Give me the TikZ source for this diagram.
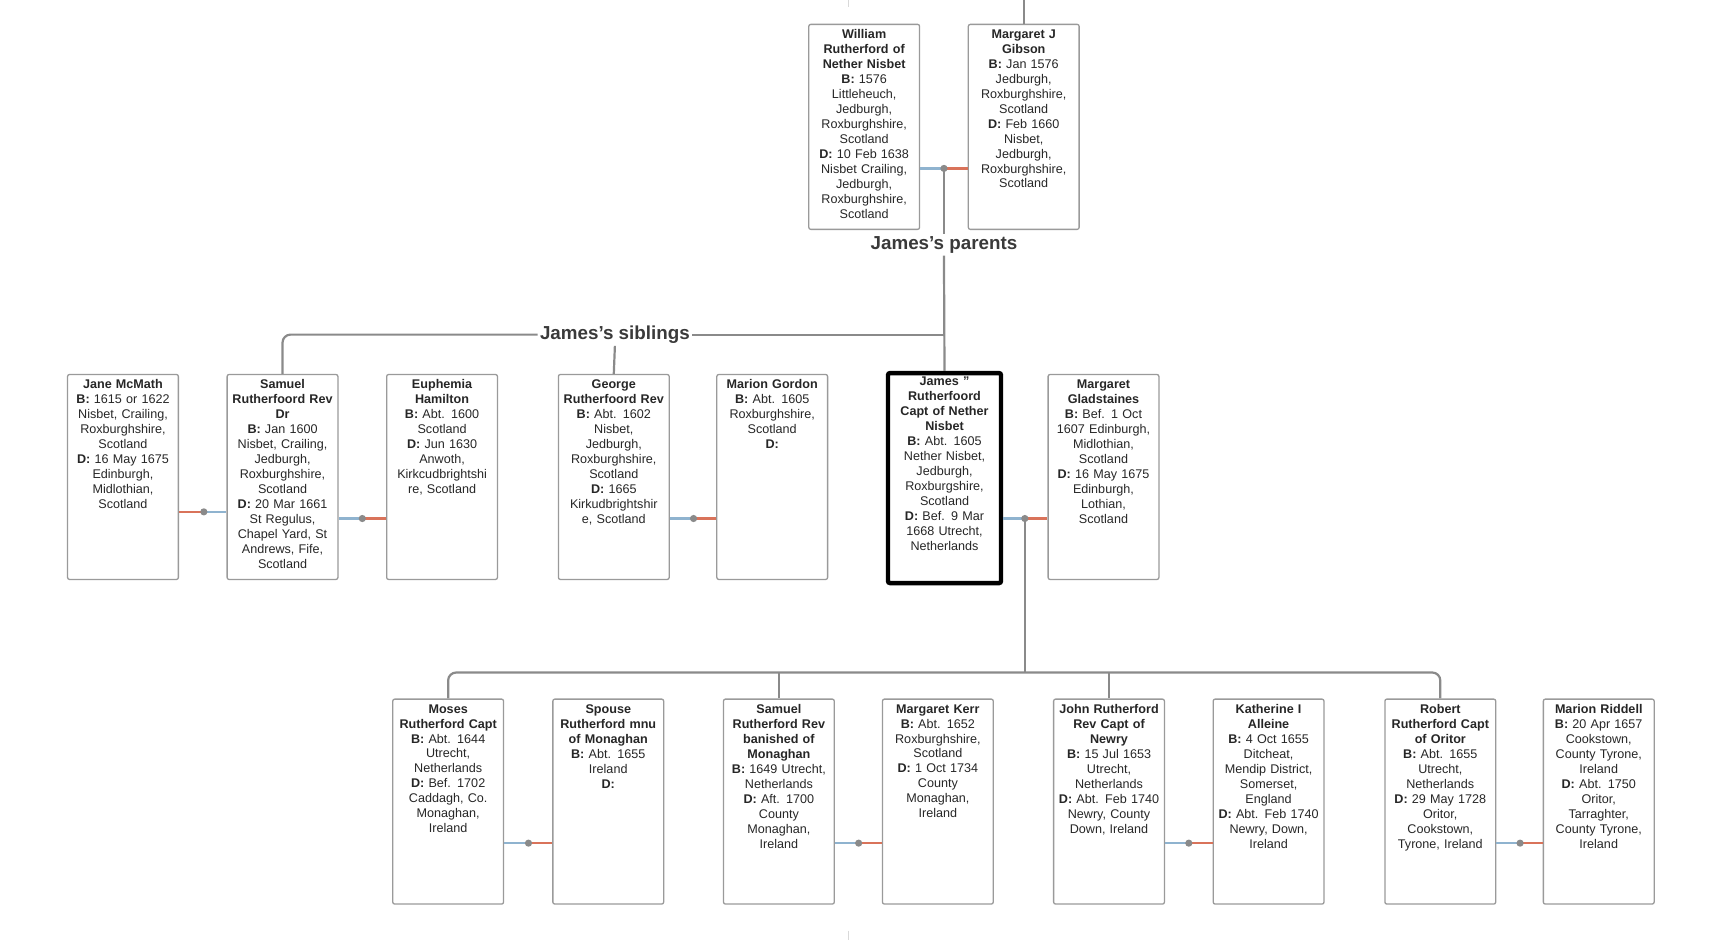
\documentclass[tikz,border=0pt]{standalone}
\usepackage{fontspec}
\setmainfont{Liberation Sans}
\usetikzlibrary{positioning}
\definecolor{linegray}{HTML}{8A8A8A}
\definecolor{boxgray}{HTML}{9A9A9A}
\definecolor{husb}{HTML}{8FB3CF}
\definecolor{wife}{HTML}{D9735A}
\definecolor{labelgray}{HTML}{3A3A3A}
\tikzset{
  box/.style={draw=boxgray,line width=0.65pt,rounded corners=1pt,minimum width=55.4pt,minimum height=102.5pt,inner sep=0pt},
  focus/.style={box,draw=black,line width=2.2pt,minimum width=56.5pt,minimum height=105pt},
  info/.style={inner sep=0pt,text width=62pt,align=center,font=\fontsize{6.3}{7.48}\selectfont,text=black!85},
  tree/.style={draw=linegray,line width=1.1pt,rounded corners=4pt},
  hline/.style={draw=husb,line width=1.1pt},
  wline/.style={draw=wife,line width=1.1pt},
  grouplabel/.style={fill=white,inner sep=1pt,font=\fontsize{9.4}{11}\selectfont\bfseries,text=labelgray}
}
\newcommand\person[5][box]{%
  \node[#1] (#2) at (#3,#4) {};
  \node[info,below=2.8pt of #2.north] {#5};}
\newcommand\couple[5]{% left, right, dot, left style, right style
  \draw[#4] (#1.east|-#3) -- (#3);
  \draw[#5] (#3) -- (#2.west|-#3);
  \fill[linegray] (#3) circle (1.8pt);}
\begin{document}
\begin{tikzpicture}[x=0.554pt,y=-0.554pt]
  \useasboundingbox (0,0) rectangle (1566,848);
  % parents
  \person{william}{780}{114.5}{\textbf{William\\Rutherford of\\Nether Nisbet}\\\textbf{B:} 1576\\Littleheuch,\\Jedburgh,\\Roxburghshire,\\Scotland\\\textbf{D:} 10 Feb 1638\\Nisbet Crailing,\\Jedburgh,\\Roxburghshire,\\Scotland}
  \person{margaretj}{924}{114.5}{\textbf{Margaret J\\Gibson}\\\textbf{B:} Jan 1576\\Jedburgh,\\Roxburghshire,\\Scotland\\\textbf{D:} Feb 1660\\Nisbet,\\Jedburgh,\\Roxburghshire,\\Scotland}
  % siblings row
  \person{jane}{111}{430.5}{\textbf{Jane McMath}\\\textbf{B:} 1615 or 1622\\Nisbet, Crailing,\\Roxburghshire,\\Scotland\\\textbf{D:} 16 May 1675\\Edinburgh,\\Midlothian,\\Scotland}
  \person{samuel}{255}{430.5}{\textbf{Samuel\\Rutherfoord Rev\\Dr}\\\textbf{B:} Jan 1600\\Nisbet, Crailing,\\Jedburgh,\\Roxburghshire,\\Scotland\\\textbf{D:} 20 Mar 1661\\St Regulus,\\Chapel Yard, St\\Andrews, Fife,\\Scotland}
  \person{euphemia}{399}{430.5}{\textbf{Euphemia\\Hamilton}\\\textbf{B:} Abt. 1600\\Scotland\\\textbf{D:} Jun 1630\\Anwoth,\\Kirkcudbrightshi\\re, Scotland}
  \person{george}{554}{430.5}{\textbf{George\\Rutherfoord Rev}\\\textbf{B:} Abt. 1602\\Nisbet,\\Jedburgh,\\Roxburghshire,\\Scotland\\\textbf{D:} 1665\\Kirkudbrightshir\\e, Scotland}
  \person{mariong}{697}{430.5}{\textbf{Marion Gordon}\\\textbf{B:} Abt. 1605\\Roxburghshire,\\Scotland\\\textbf{D:}}
  \person[focus]{james}{852.5}{431.5}{\textbf{James "\\Rutherfoord\\Capt of Nether\\Nisbet}\\\textbf{B:} Abt. 1605\\Nether Nisbet,\\Jedburgh,\\Roxburgshire,\\Scotland\\\textbf{D:} Bef. 9 Mar\\1668 Utrecht,\\Netherlands}
  \person{margaretg}{996}{430.5}{\textbf{Margaret\\Gladstaines}\\\textbf{B:} Bef. 1 Oct\\1607 Edinburgh,\\Midlothian,\\Scotland\\\textbf{D:} 16 May 1675\\Edinburgh,\\Lothian,\\Scotland}
  % children row
  \person{moses}{404.5}{723.5}{\textbf{Moses\\Rutherford Capt}\\\textbf{B:} Abt. 1644\\Utrecht,\\Netherlands\\\textbf{D:} Bef. 1702\\Caddagh, Co.\\Monaghan,\\Ireland}
  \person{spouse}{549}{723.5}{\textbf{Spouse\\Rutherford mnu\\of Monaghan}\\\textbf{B:} Abt. 1655\\Ireland\\\textbf{D:}}
  \person{samuelm}{703}{723.5}{\textbf{Samuel\\Rutherford Rev\\banished of\\Monaghan}\\\textbf{B:} 1649 Utrecht,\\Netherlands\\\textbf{D:} Aft. 1700\\County\\Monaghan,\\Ireland}
  \person{margaretk}{846.5}{723.5}{\textbf{Margaret Kerr}\\\textbf{B:} Abt. 1652\\Roxburghshire,\\Scotland\\\textbf{D:} 1 Oct 1734\\County\\Monaghan,\\Ireland}
  \person{john}{1001}{723.5}{\textbf{John Rutherford\\Rev Capt of\\Newry}\\\textbf{B:} 15 Jul 1653\\Utrecht,\\Netherlands\\\textbf{D:} Abt. Feb 1740\\Newry, County\\Down, Ireland}
  \person{katherine}{1145}{723.5}{\textbf{Katherine I\\Alleine}\\\textbf{B:} 4 Oct 1655\\Ditcheat,\\Mendip District,\\Somerset,\\England\\\textbf{D:} Abt. Feb 1740\\Newry, Down,\\Ireland}
  \person{robert}{1300}{723.5}{\textbf{Robert\\Rutherford Capt\\of Oritor}\\\textbf{B:} Abt. 1655\\Utrecht,\\Netherlands\\\textbf{D:} 29 May 1728\\Oritor,\\Cookstown,\\Tyrone, Ireland}
  \person{marionr}{1443}{723.5}{\textbf{Marion Riddell}\\\textbf{B:} 20 Apr 1657\\Cookstown,\\County Tyrone,\\Ireland\\\textbf{D:} Abt. 1750\\Oritor,\\Tarraghter,\\County Tyrone,\\Ireland}
  % couple dots
  \coordinate (pdot) at (852,152);
  \coordinate (sjdot) at (184,462);
  \coordinate (sedot) at (327,468);
  \coordinate (gmdot) at (626,468);
  \coordinate (jmdot) at (925,468);
  \coordinate (mdot) at (477,761);
  \coordinate (sdot) at (775,761);
  \coordinate (jdot) at (1073,761);
  \coordinate (rdot) at (1372,761);
  % group labels
  \node[grouplabel] (parentslbl) at (852,221) {James's parents};
  \node[grouplabel] (siblbl) at (555,302) {James's siblings};
  \coordinate (sibbar) at (852,302);
  \coordinate (kidbar) at (925,607);
  % tree lines
  \draw[tree] (924,0) -- (margaretj.north-|924,0);
  \draw[black!15,line width=0.6pt] (766,0) -- (766,6) (766,840) -- (766,850);
  \draw[tree] (pdot) -- (parentslbl.north);
  \draw[tree] (parentslbl.south) -- (james.north);
  \draw[tree] (sibbar) -- (siblbl.east);
  \draw[tree] (siblbl.west) -| (samuel.north);
  \draw[tree] (siblbl.south) -- (george.north);
  \draw[tree] (jmdot) -- (kidbar);
  \draw[tree] (moses.north) |- (kidbar) -| (robert.north);
  \draw[tree] (samuelm.north) -- (samuelm.north|-kidbar);
  \draw[tree] (john.north) -- (john.north|-kidbar);
  % couples
  \couple{william}{margaretj}{pdot}{hline}{wline}
  \couple{jane}{samuel}{sjdot}{wline}{hline}
  \couple{samuel}{euphemia}{sedot}{hline}{wline}
  \couple{george}{mariong}{gmdot}{hline}{wline}
  \couple{james}{margaretg}{jmdot}{hline}{wline}
  \couple{moses}{spouse}{mdot}{hline}{wline}
  \couple{samuelm}{margaretk}{sdot}{hline}{wline}
  \couple{john}{katherine}{jdot}{hline}{wline}
  \couple{robert}{marionr}{rdot}{hline}{wline}
\end{tikzpicture}
\end{document}
